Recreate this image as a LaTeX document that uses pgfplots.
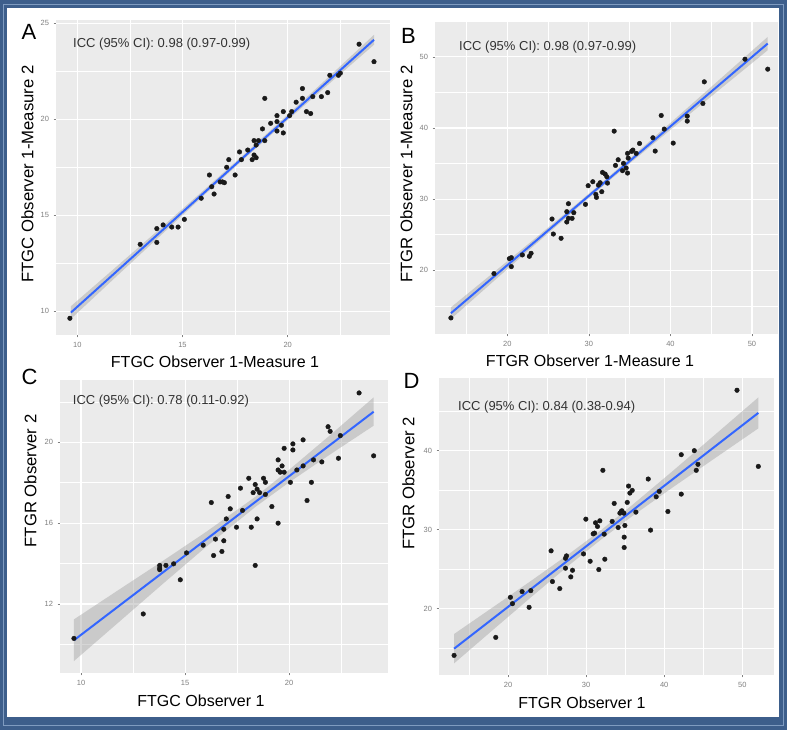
\documentclass[border=0pt]{standalone}
\usepackage{pgfplots}
\pgfplotsset{compat=1.18}
\usepackage{fontspec}
\setmainfont{Liberation Sans}
\definecolor{frameblue}{HTML}{3D5E8B}
\definecolor{framelight}{HTML}{7F9BC0}
\definecolor{ggbg}{HTML}{EBEBEB}
\definecolor{ggblue}{HTML}{3366FF}
\definecolor{ribbon}{HTML}{999999}
\definecolor{tickgray}{HTML}{808080}
\definecolor{icctext}{HTML}{333333}
\pgfplotsset{
  ggp/.style={
    scale only axis,
    axis background/.style={fill=ggbg},
    axis line style={draw=none},
    xmajorgrids, ymajorgrids, xminorgrids, yminorgrids,
    major grid style={white, line width=1.1pt},
    minor grid style={white, line width=0.55pt},
    tick style={tickgray, line width=0.5pt},
    tick align=outside,
    major tick length=2.5pt,
    minor tick length=0pt,
    xtick pos=lower, ytick pos=left,
    ticklabel style={font=\fontsize{7.5}{8}\selectfont, text=tickgray},
    /pgf/number format/assume math mode=true,
    xticklabel style={yshift=-1pt},
    yticklabel style={xshift=-1pt},
  },
  pts/.style={only marks, mark=*, mark size=2.3pt, mark options={fill=black!90, draw=black!90}},
  fit/.style={ggblue, line width=2pt, no marks},
  band/.style={fill=ribbon, fill opacity=0.4, draw=none},
}
\begin{document}
\begin{tikzpicture}
% frame
\fill[frameblue] (0pt,0pt) rectangle (787pt,730pt);
\draw[framelight, line width=0.8pt] (3.5pt,4.5pt) rectangle (783.5pt,726pt);
\fill[white] (7pt,13pt) rectangle (779pt,722pt);

% ---------- Panel A ----------
\begin{axis}[ggp, at={(56pt,395pt)}, anchor=south west, width=334pt, height=315pt,
  xmin=8.99, xmax=24.86, ymin=8.77, ymax=25.17,
  xtick={10,15,20}, ytick={10,15,20,25},
  minor xtick={12.5,17.5,22.5}, minor ytick={12.5,17.5,22.5}]
\addplot[band] coordinates {(9.7,10.27) (12,12.46) (14,14.37) (16,16.30) (18,18.25) (20,20.24) (22,22.26) (24.1,24.40)
  (24.1,23.88) (22,21.88) (20,19.96) (18,18.01) (16,16.02) (14,13.99) (12,11.96) (9.7,9.61)} -- cycle;
\addplot[pts] table {
x y
9.65 9.64
12.99 13.49
13.78 14.31
13.78 13.59
14.08 14.50
14.49 14.39
14.79 14.39
15.09 14.79
15.89 15.89
16.28 17.10
16.39 16.49
16.50 16.11
16.79 16.74
16.90 16.74
16.99 16.70
17.10 17.50
17.20 17.90
17.50 17.10
17.71 18.30
17.80 17.90
18.10 18.40
18.31 17.90
18.40 18.14
18.50 18.00
18.40 18.89
18.61 18.89
18.80 19.50
18.91 21.09
18.91 18.89
18.50 18.66
19.19 19.79
19.49 20.19
19.49 19.39
19.49 19.88
19.70 19.69
19.79 20.40
19.79 19.29
20.09 20.19
20.19 20.40
20.40 20.89
20.70 21.60
20.70 21.09
20.89 20.40
21.09 20.30
21.19 21.18
21.60 21.18
21.90 21.39
22.00 22.29
22.41 22.29
22.50 22.40
23.39 23.91
24.10 23.00
};
\addplot[fit] coordinates {(9.7,9.94) (24.1,24.14)};
\end{axis}

% ---------- Panel B ----------
\begin{axis}[ggp, at={(435pt,396pt)}, anchor=south west, width=343pt, height=312pt,
  xmin=11.13, xmax=53.19, ymin=11.05, ymax=54.9,
  xtick={20,30,40,50}, ytick={20,30,40,50},
  minor xtick={15,25,35,45}, minor ytick={15,25,35,45}]
\addplot[band] coordinates {(13.08,14.79) (18,19.40) (23,24.10) (28,28.85) (31,31.75) (35,35.69) (40,40.72) (45,45.78) (51.93,52.81)
  (51.93,50.93) (45,44.44) (40,39.74) (35,35.01) (31,31.15) (28,28.19) (23,23.20) (18,18.14) (13.08,13.15)} -- cycle;
\addplot[pts] table {
x y
13.08 13.31
18.36 19.54
20.25 21.64
20.49 21.78
20.49 20.52
21.84 22.16
22.70 21.97
22.91 22.39
25.48 27.21
25.64 25.10
26.59 24.50
27.29 28.24
27.29 26.79
27.49 29.36
27.49 27.30
27.94 27.30
28.15 28.10
29.58 29.27
29.91 31.89
30.48 32.45
30.85 30.67
30.93 30.25
31.17 31.98
31.38 32.31
31.58 31.05
31.67 33.76
31.99 33.53
32.20 33.15
32.28 32.26
33.26 34.74
33.59 35.54
33.10 39.56
34.12 34.00
34.24 35.03
34.57 34.37
34.74 33.67
34.74 36.43
34.82 35.77
35.23 36.71
35.39 36.90
35.80 36.43
36.21 37.83
37.85 38.63
38.13 36.76
38.87 41.76
39.24 39.85
40.34 37.88
42.06 41.67
42.06 40.97
43.98 43.45
44.15 46.49
49.14 49.67
51.93 48.27
};
\addplot[fit] coordinates {(13.08,13.97) (51.93,51.87)};
\end{axis}

% ---------- Panel C ----------
\begin{axis}[ggp, at={(60pt,57pt)}, anchor=south west, width=328pt, height=293pt,
  xmin=8.99, xmax=24.75, ymin=8.59, ymax=23.08,
  xtick={10,15,20}, ytick={12,16,20},
  minor xtick={12.5,17.5,22.5}, minor ytick={10,14,18,22}]
\addplot[band] coordinates {(9.66,11.24) (12,12.83) (14,14.18) (16,15.56) (18.4,17.32) (20,18.64) (22,20.38) (24.06,22.22)
  (24.06,20.82) (22,19.42) (20,18.02) (18.4,16.82) (16,14.82) (14,13.06) (12,11.27) (9.66,9.18)} -- cycle;
\addplot[pts] table {
x y
9.66 10.30
12.99 11.51
13.78 13.91
13.78 13.78
13.78 13.70
14.08 13.91
14.45 13.99
14.77 13.20
15.07 14.53
15.87 14.91
16.26 17.02
16.37 14.40
16.46 15.21
16.77 14.60
16.86 15.70
16.86 15.13
16.98 16.21
17.07 17.32
17.17 16.71
17.47 15.80
17.66 17.73
17.76 16.63
18.06 18.22
18.18 15.80
18.27 17.51
18.37 17.91
18.37 13.91
18.46 17.68
18.46 16.21
18.58 17.51
18.77 18.22
18.86 18.02
18.86 17.42
19.17 16.82
19.47 16.00
19.47 19.13
19.47 18.63
19.57 18.52
19.66 18.83
19.76 19.70
19.76 18.52
20.06 18.02
20.18 19.92
20.18 19.62
20.37 18.63
20.67 20.12
20.67 18.83
20.86 17.12
21.07 18.02
21.17 19.13
21.57 19.03
21.87 20.77
21.97 20.54
22.37 19.21
22.46 20.33
23.36 22.44
24.06 19.33
};
\addplot[fit] coordinates {(9.66,10.21) (24.06,21.51)};
\end{axis}

% ---------- Panel D ----------
\begin{axis}[ggp, at={(439pt,55pt)}, anchor=south west, width=335pt, height=297pt,
  xmin=11.15, xmax=54.06, ymin=11.6, ymax=49.2,
  xtick={20,30,40,50}, ytick={20,30,40},
  minor xtick={15,25,35,45}, minor ytick={15,25,35,45}]
\addplot[band] coordinates {(13.08,16.79) (18,20.14) (23,23.56) (28,27.07) (32,30.02) (36,33.20) (41,37.35) (46,41.59) (52.05,46.74)
  (52.05,42.82) (46,38.71) (41,35.29) (36,31.78) (32,28.82) (28,25.65) (23,21.50) (18,17.26) (13.08,13.07)} -- cycle;
\addplot[pts] table {
x y
13.08 14.08
18.42 16.36
20.30 21.44
20.56 20.63
21.79 22.16
22.69 20.17
22.91 22.28
25.51 27.32
25.68 23.43
26.62 22.54
27.35 26.38
27.48 26.68
27.35 25.12
28.03 24.02
28.25 24.86
29.66 26.93
29.96 31.33
30.51 26.00
30.90 29.47
31.07 29.56
31.20 30.87
31.45 30.40
31.62 24.95
31.75 31.12
32.14 37.51
32.31 29.43
32.39 26.26
33.33 31.04
33.59 33.32
34.10 30.27
34.32 32.09
34.49 32.30
34.57 32.39
34.83 32.09
34.87 29.05
34.96 30.53
34.87 27.74
35.26 33.45
35.43 35.52
35.60 34.63
35.90 34.97
36.37 32.22
37.95 36.41
38.25 29.94
38.97 34.16
39.36 34.84
40.47 32.30
42.18 39.49
42.18 34.50
43.85 40.00
44.10 37.51
44.32 38.27
49.32 47.65
52.05 38.01
};
\addplot[fit] coordinates {(13.08,14.93) (52.05,44.78)};
\end{axis}

% ---------- texts ----------
\begin{scope}[every node/.style={inner sep=0pt}]
\node[font=\fontsize{22}{24}\selectfont] at (29pt,698pt) {A};
\node[font=\fontsize{22}{24}\selectfont] at (408.5pt,694pt) {B};
\node[font=\fontsize{22}{24}\selectfont] at (29.5pt,353.5pt) {C};
\node[font=\fontsize{22}{24}\selectfont] at (411.5pt,349pt) {D};
\node[anchor=base west, text=icctext, font=\fontsize{13}{15}\selectfont] at (73pt,682.3pt) {ICC (95\% CI): 0.98 (0.97-0.99)};
\node[anchor=base west, text=icctext, font=\fontsize{13}{15}\selectfont] at (459pt,679.3pt) {ICC (95\% CI): 0.98 (0.97-0.99)};
\node[anchor=base west, text=icctext, font=\fontsize{13}{15}\selectfont] at (72.7pt,325pt) {ICC (95\% CI): 0.78 (0.11-0.92)};
\node[anchor=base west, text=icctext, font=\fontsize{13}{15}\selectfont] at (458pt,319pt) {ICC (95\% CI): 0.84 (0.38-0.94)};
\node[font=\fontsize{16}{18}\selectfont] at (215pt,368.5pt) {FTGC Observer 1-Measure 1};
\node[font=\fontsize{16}{18}\selectfont] at (590pt,369pt) {FTGR Observer 1-Measure 1};
\node[font=\fontsize{16}{18}\selectfont] at (201pt,29pt) {FTGC Observer 1};
\node[font=\fontsize{16}{18}\selectfont] at (582pt,27pt) {FTGR Observer 1};
\node[rotate=90, font=\fontsize{16.7}{18}\selectfont] at (27.5pt,556pt) {FTGC Observer 1-Measure 2};
\node[rotate=90, font=\fontsize{16.7}{18}\selectfont] at (406.5pt,556pt) {FTGR Observer 1-Measure 2};
\node[rotate=90, font=\fontsize{16.7}{18}\selectfont] at (30.5pt,249pt) {FTGR Observer 2};
\node[rotate=90, font=\fontsize{16.7}{18}\selectfont] at (408.5pt,246.5pt) {FTGR Observer 2};
\end{scope}
\end{tikzpicture}
\end{document}
